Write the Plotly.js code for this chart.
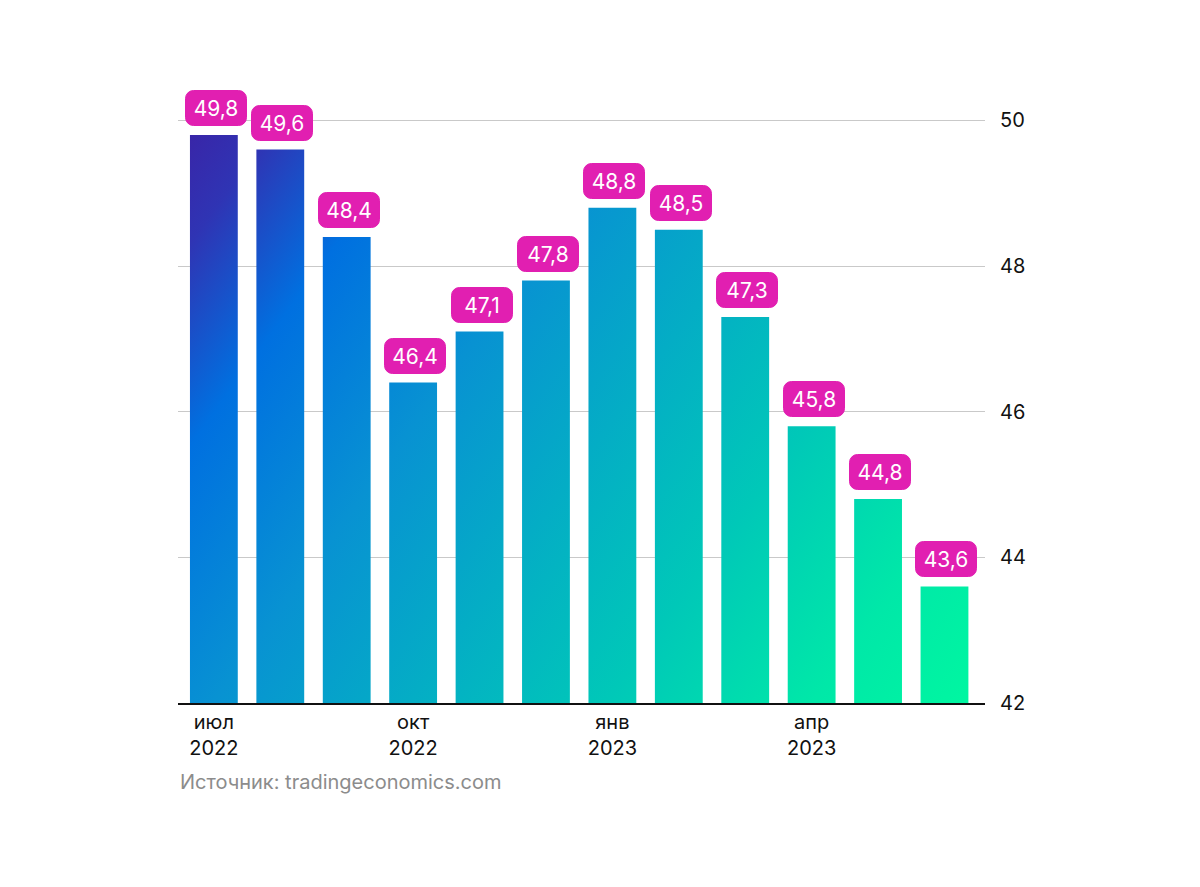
<!DOCTYPE html>
<html>
<head>
<meta charset="utf-8">
<script src="https://cdn.plot.ly/plotly-3.0.1.min.js"></script>
<style>
  html, body { margin: 0; padding: 0; background: #ffffff; }
  #chart { width: 1200px; height: 887px; }
</style>
</head>
<body>
<div id="chart"></div>
<script>
// Data
const categories = ["июл 2022", "авг 2022", "сен 2022", "окт 2022", "ноя 2022", "дек 2022",
                    "янв 2023", "фев 2023", "мар 2023", "апр 2023", "май 2023", "июн 2023"];
const values = [49.8, 49.6, 48.4, 46.4, 47.1, 47.8, 48.8, 48.5, 47.3, 45.8, 44.8, 43.6];
const valueLabels = ["49,8", "49,6", "48,4", "46,4", "47,1", "47,8", "48,8", "48,5", "47,3", "45,8", "44,8", "43,6"];
const tickPositions = [0, 3, 6, 9];
const tickLabels = ["июл<br>2022", "окт<br>2022", "янв<br>2023", "апр<br>2023"];
const yTicks = [42, 44, 46, 48, 50];
const sourceText = "Источник: tradingeconomics.com";

const FONT = "Inter, 'Open Sans', sans-serif";
const xIdx = categories.map((_, i) => i);

const trace = {
  type: "bar",
  x: xIdx,
  y: values.map(v => v - 42),
  base: 42,
  width: 0.72,
  marker: { color: "#0a80dc", line: { width: 0 } },
  hoverinfo: "skip",
  cliponaxis: false
};

const annotations = values.map((v, i) => ({
  x: i, y: v, xref: "x", yref: "y",
  text: valueLabels[i],
  showarrow: false,
  yanchor: "bottom", xanchor: "center",
  yshift: 9, xshift: 2,
  bgcolor: "#E11FB1",
  borderpad: 3,
  borderwidth: 1,
  bordercolor: "#E11FB1",
  width: 54, height: 28,
  font: { family: FONT, size: 21, color: "#ffffff" }
}));

annotations.push({
  xref: "paper", yref: "paper",
  x: 0, y: -0.128,
  xanchor: "left", yanchor: "middle",
  text: sourceText,
  showarrow: false,
  font: { family: FONT, size: 20, color: "#8c8c8c" }
});

const layout = {
  width: 1200, height: 887,
  margin: { l: 178, r: 215, t: 84, b: 184 },
  paper_bgcolor: "#ffffff",
  plot_bgcolor: "#ffffff",
  showlegend: false,
  font: { family: FONT, color: "#111111" },
  xaxis: {
    range: [-0.54, 11.61],
    tickvals: tickPositions,
    ticktext: tickLabels,
    showgrid: false,
    zeroline: false,
    showline: true,
    linecolor: "#111111",
    linewidth: 2,
    ticks: "",
    ticklabelstandoff: 0,
    tickfont: { family: FONT, size: 20, color: "#111111" },
    fixedrange: true
  },
  yaxis: {
    side: "right",
    range: [42, 50.5],
    tickvals: yTicks,
    ticktext: yTicks.map(String),
    showgrid: true,
    gridcolor: "#c9c9c9",
    gridwidth: 1,
    zeroline: false,
    showline: false,
    ticks: "",
    ticklabelstandoff: 14,
    tickfont: { family: FONT, size: 20, color: "#111111" },
    fixedrange: true
  },
  annotations: annotations
};

Plotly.newPlot("chart", [trace], layout, { displayModeBar: false, staticPlot: true }).then(gd => {
  const svg = gd.querySelector("svg.main-svg");
  const ns = "http://www.w3.org/2000/svg";
  let defs = svg.querySelector("defs");
  if (!defs) { defs = document.createElementNS(ns, "defs"); svg.insertBefore(defs, svg.firstChild); }
  const xa = gd._fullLayout.xaxis, ya = gd._fullLayout.yaxis;
  const grad = document.createElementNS(ns, "linearGradient");
  grad.setAttribute("id", "barGrad");
  grad.setAttribute("gradientUnits", "userSpaceOnUse");
  grad.setAttribute("x1", xa.l2p(-0.5));
  grad.setAttribute("y1", ya.l2p(50));
  grad.setAttribute("x2", xa.l2p(11.6));
  grad.setAttribute("y2", ya.l2p(42));
  const stops = [
    [0, "#3b22a5"], [0.08, "#2f34b4"], [0.2, "#0070e0"], [0.37, "#0892d2"],
    [0.69, "#00c8b8"], [0.86, "#00e8a8"], [1, "#00f8a0"]
  ];
  stops.forEach(([o, c]) => {
    const s = document.createElementNS(ns, "stop");
    s.setAttribute("offset", o);
    s.setAttribute("stop-color", c);
    grad.appendChild(s);
  });
  defs.appendChild(grad);
  gd.querySelectorAll(".trace.bars .point path").forEach(p => {
    p.style.fill = "url(#barGrad)";
  });
  gd.querySelectorAll(".annotation-text-g rect.bg").forEach(r => {
    r.setAttribute("rx", 8);
    r.setAttribute("ry", 8);
  });
});
</script>
</body>
</html>
